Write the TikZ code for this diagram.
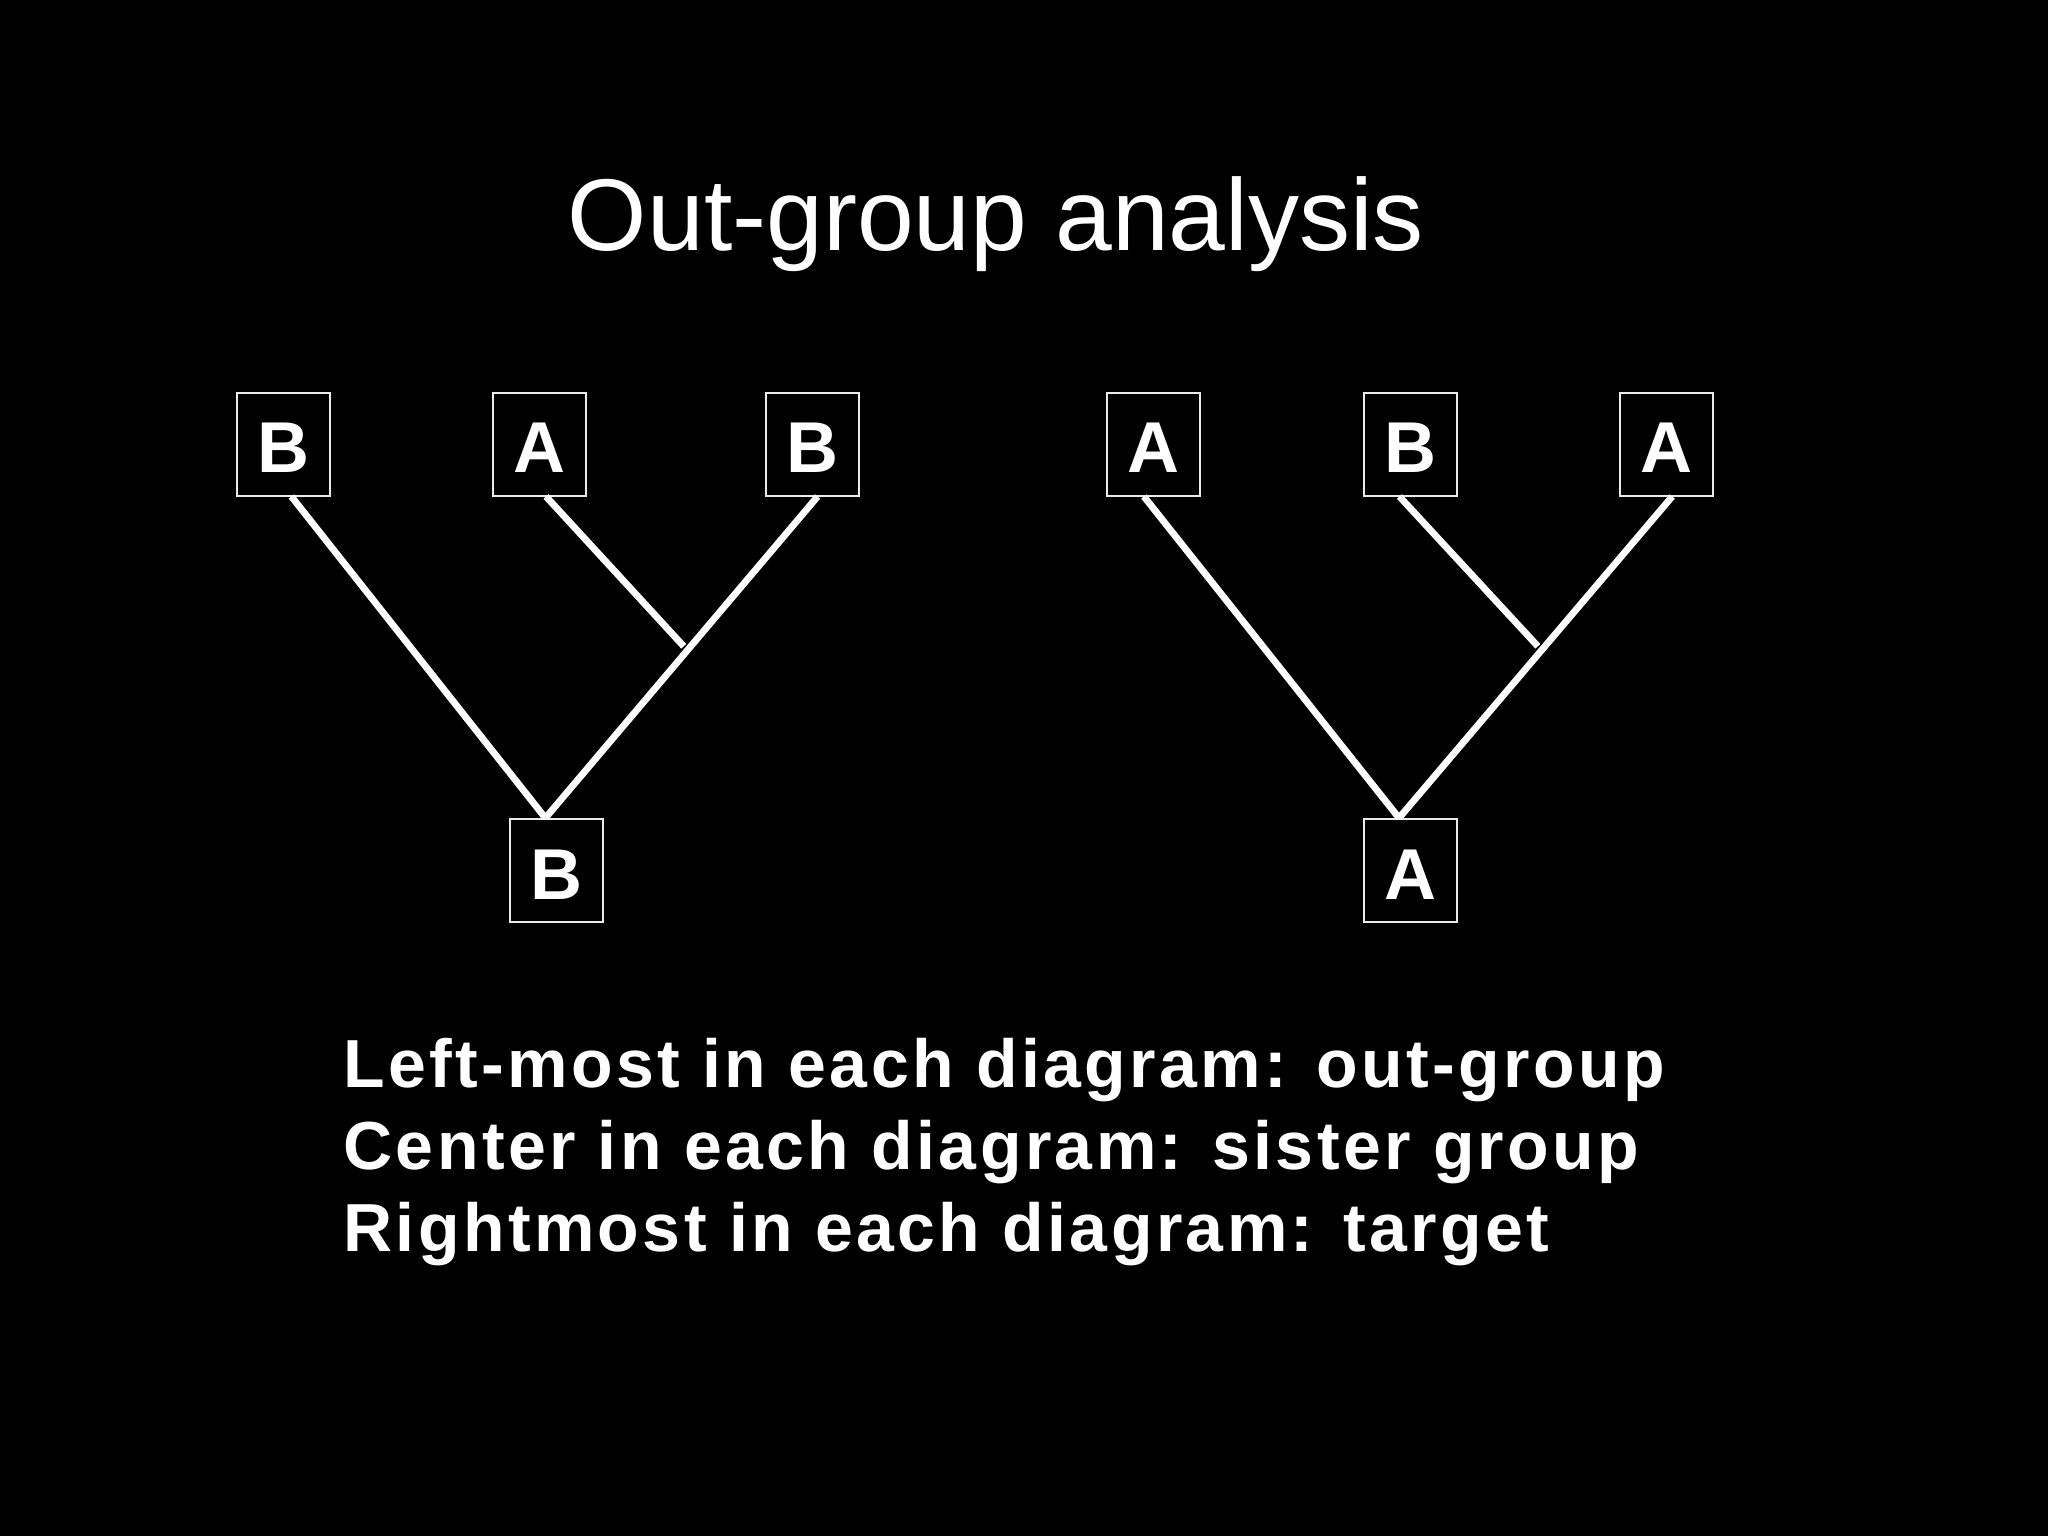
\documentclass[tikz,border=0pt]{standalone}
\usepackage{fontspec}
\setmainfont{Liberation Sans}
\newfontfamily\spacedbold[LetterSpace=5]{Liberation Sans Bold}
\begin{document}
\begin{tikzpicture}[x=0.5pt,y=-0.5pt,
  taxon/.style={draw=white!92!black, line width=1pt, fill=black, text=white,
    minimum width=46.5pt, minimum height=51.5pt, inner sep=0pt,
    text height=28.8pt, text depth=0pt,
    font=\fontsize{36}{36}\selectfont\bfseries},
  branch/.style={draw=white, line width=3.4pt},
  titletext/.style={text=white, inner sep=0pt, font=\fontsize{51}{51}\selectfont},
  bodytext/.style={text=white, inner sep=0pt, align=left,
    font=\fontsize{34}{41}\selectfont\spacedbold}]
\fill[black] (0,0) rectangle (2048,1536);
\useasboundingbox (0,0) rectangle (2048,1536);

\node[titletext, anchor=base] (title) at (996,250) {Out-group analysis};

% left tree
\node[taxon] (lb1) at (283,444) {B};
\node[taxon] (la) at (539,444) {A};
\node[taxon] (lb2) at (812,444) {B};
\node[taxon] (lroot) at (556,870.5) {B};
\path ([xshift=2.8pt]lb2.south) -- ([xshift=-5.3pt]lroot.north) coordinate[pos=0.466] (lj);
\draw[branch] ([xshift=4.2pt]lb1.south) -- ([xshift=-5.3pt]lroot.north);
\draw[branch] ([xshift=2.8pt]lb2.south) -- ([xshift=-5.3pt]lroot.north);
\draw[branch] ([xshift=3.5pt]la.south) -- ([xshift=-3.5pt]lj);

% right tree
\node[taxon] (ra1) at (1153.5,444) {A};
\node[taxon] (rb) at (1410,444) {B};
\node[taxon] (ra2) at (1666,444) {A};
\node[taxon] (rroot) at (1410,870.5) {A};
\path ([xshift=3.1pt]ra2.south) -- ([xshift=-5.5pt]rroot.north) coordinate[pos=0.466] (rj);
\draw[branch] ([xshift=-4.8pt]ra1.south) -- ([xshift=-5.5pt]rroot.north);
\draw[branch] ([xshift=3.1pt]ra2.south) -- ([xshift=-5.5pt]rroot.north);
\draw[branch] ([xshift=-5.3pt]rb.south) -- ([xshift=-3.5pt]rj);

\node[bodytext, anchor=base west] (legend) at (343,1251)
  {Left-most in each diagram: out-group\\
   Center in each diagram: sister group\\
   Rightmost in each diagram: target};
\end{tikzpicture}
\end{document}
